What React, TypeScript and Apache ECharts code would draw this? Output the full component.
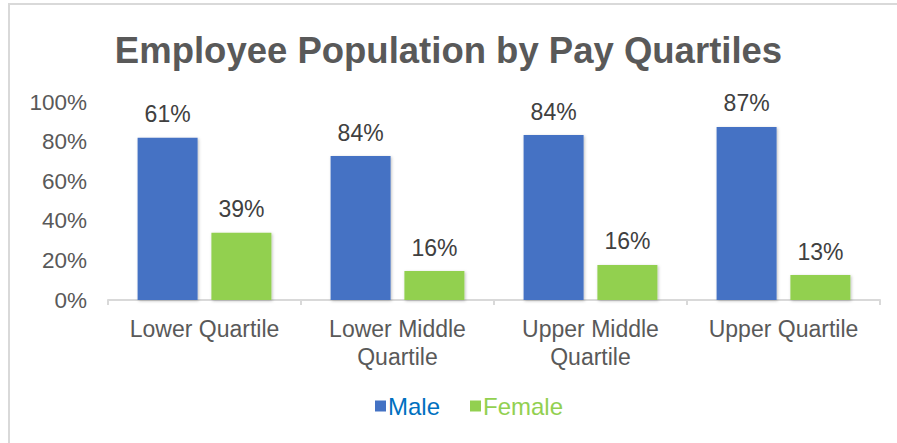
import React, { useEffect, useRef } from "react";
import * as echarts from "echarts";

const categories = ["Lower Quartile", "Lower Middle\nQuartile", "Upper Middle\nQuartile", "Upper Quartile"];
const maleValues = [82, 72.7, 83.3, 87.4];
const femaleValues = [34, 14.6, 17.7, 12.6];
const maleLabels = ["61%", "84%", "84%", "87%"];
const femaleLabels = ["39%", "16%", "16%", "13%"];
const yTicks = [0, 20, 40, 60, 80, 100];

const FONT = "'Liberation Sans', Arial, sans-serif";

export default function App() {
  const ref = useRef<HTMLDivElement>(null);
  useEffect(() => {
    document.body.style.margin = "0";
    if (!ref.current) return;
    const chart = echarts.init(ref.current, undefined, { renderer: "svg" });
    const shadow = {
      shadowColor: "rgba(0,0,0,0.25)",
      shadowBlur: 3,
      shadowOffsetX: 1,
      shadowOffsetY: 1,
    };
    chart.setOption({
      animation: false,
      backgroundColor: "#ffffff",
      textStyle: { fontFamily: FONT },
      graphic: [
        {
          type: "rect",
          shape: { x: 9, y: 4, width: 910, height: 470 },
          style: { fill: "none", stroke: "#d9d9d9", lineWidth: 2 },
          silent: true,
        },
      ],
      title: {
        text: "Employee Population by Pay Quartiles",
        left: "center",
        top: 25,
        textStyle: {
          fontFamily: FONT,
          fontSize: 36.5,
          fontWeight: "bold",
          color: "#595959",
          lineHeight: 40,
        },
      },
      legend: {
        bottom: 20,
        left: 370,
        icon: "rect",
        itemWidth: 11,
        itemHeight: 11,
        itemGap: 30,
        textStyle: { fontFamily: FONT, fontSize: 24, padding: [0, 0, 0, -3] },
        data: [
          { name: "Male", textStyle: { color: "#0070C0" } },
          { name: "Female", textStyle: { color: "#92D050" } },
        ],
      },
      grid: { left: 108, right: 17, top: 102, bottom: 143 },
      xAxis: {
        type: "category",
        data: categories,
        axisLine: { lineStyle: { color: "#d9d9d9", width: 2 } },
        axisTick: { show: true, length: 5, lineStyle: { color: "#d9d9d9", width: 2 } },
        axisLabel: {
          interval: 0,
          color: "#595959",
          fontFamily: FONT,
          fontSize: 23,
          lineHeight: 28,
          margin: 15,
        },
      },
      yAxis: {
        type: "value",
        min: yTicks[0],
        max: yTicks[yTicks.length - 1],
        interval: yTicks[1] - yTicks[0],
        axisLine: { show: false },
        axisTick: { show: false },
        splitLine: { show: false },
        axisLabel: {
          formatter: "{value}%",
          color: "#595959",
          fontFamily: FONT,
          fontSize: 22.5,
          margin: 21,
        },
      },
      series: [
        {
          name: "Male",
          type: "bar",
          data: maleValues,
          barWidth: 60,
          barGap: "23%",
          itemStyle: { color: "#4472C4", ...shadow },
          label: {
            show: true,
            position: "top",
            distance: 12,
            color: "#404040",
            fontFamily: FONT,
            fontSize: 23,
            formatter: (p: any) => maleLabels[p.dataIndex],
          },
        },
        {
          name: "Female",
          type: "bar",
          data: femaleValues,
          barWidth: 60,
          barGap: "23%",
          itemStyle: { color: "#92D050", ...shadow },
          label: {
            show: true,
            position: "top",
            distance: 12,
            color: "#404040",
            fontFamily: FONT,
            fontSize: 23,
            formatter: (p: any) => femaleLabels[p.dataIndex],
          },
        },
      ],
    });
    return () => chart.dispose();
  }, []);
  return <div ref={ref} style={{ width: 897, height: 443 }} />;
}
